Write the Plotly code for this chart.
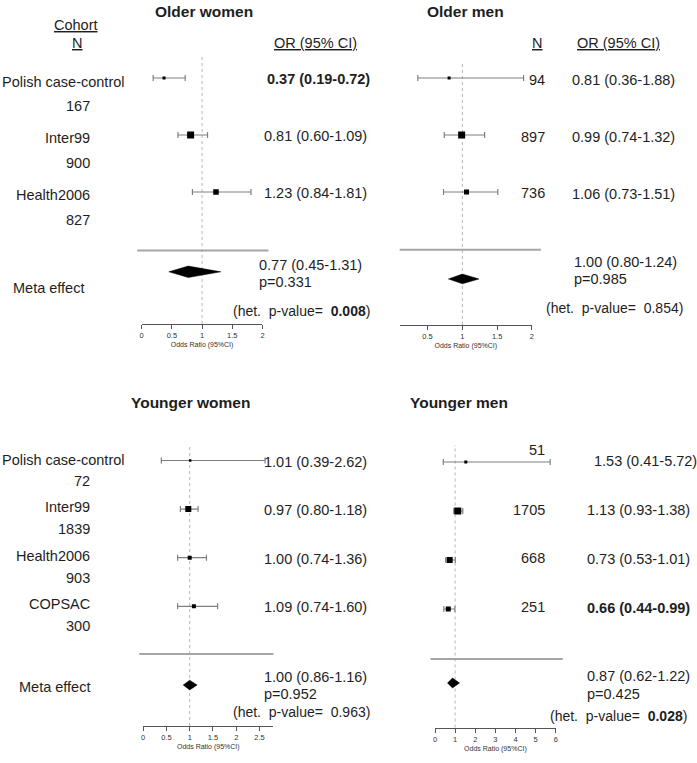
import plotly.graph_objects as go

W, H = 697, 763

# ---------------- data ----------------
cohorts_older = ["Polish case-control", "Inter99", "Health2006"]
cohorts_younger = ["Polish case-control", "Inter99", "Health2006", "COPSAC"]

# Older women
ow_n = [167, 900, 827]
ow_or = [0.37, 0.81, 1.23]
ow_lo = [0.19, 0.60, 0.84]
ow_hi = [0.72, 1.09, 1.81]
ow_sig = [True, False, False]
ow_meta = [0.77, 0.45, 1.31]
ow_p = "0.331"
ow_het = "0.008"
ow_het_sig = True

# Older men
om_n = [94, 897, 736]
om_or = [0.81, 0.99, 1.06]
om_lo = [0.36, 0.74, 0.73]
om_hi = [1.88, 1.32, 1.51]
om_sig = [False, False, False]
om_meta = [1.00, 0.80, 1.24]
om_p = "0.985"
om_het = "0.854"
om_het_sig = False

# Younger women
yw_n = [72, 1839, 903, 300]
yw_or = [1.01, 0.97, 1.00, 1.09]
yw_lo = [0.39, 0.80, 0.74, 0.74]
yw_hi = [2.62, 1.18, 1.36, 1.60]
yw_sig = [False, False, False, False]
yw_meta = [1.00, 0.86, 1.16]
yw_p = "0.952"
yw_het = "0.963"
yw_het_sig = False

# Younger men
ym_n = [51, 1705, 668, 251]
ym_or = [1.53, 1.13, 0.73, 0.66]
ym_lo = [0.41, 0.93, 0.53, 0.44]
ym_hi = [5.72, 1.38, 1.01, 0.99]
ym_sig = [False, False, False, True]
ym_meta = [0.87, 0.62, 1.22]
ym_p = "0.425"
ym_het = "0.028"
ym_het_sig = True

# axis ticks
ticks_ow = [0, 0.5, 1, 1.5, 2]
ticks_om = [0.5, 1, 1.5, 2]
ticks_yw = [0, 0.5, 1, 1.5, 2, 2.5]
ticks_ym = [0, 1, 2, 3, 4, 5, 6]

# ---------------- layout / style (pixels) ----------------
FONT = "Liberation Sans, Arial, sans-serif"
TXT = "#1e1e1e"
FS = 14.5


def fx(x):
    return x / W


def fy(y):
    return 1 - y / H


panels = [
    dict(name="Older women", cohorts=cohorts_older, n=ow_n, est=ow_or, lo=ow_lo, hi=ow_hi,
         sig=ow_sig, meta=ow_meta, p=ow_p, het=ow_het, het_sig=ow_het_sig, ticks=ticks_ow,
         xdom=(140.5, 262), xrange=(0, 2), ydom=(57, 324), row0=78, unit=28.5,
         rmeta=6.8, rsep=6.05, sep=(136, 268), sizes=[3, 7, 5.5], dh=0.2,
         title=(203, 11), left=True, lab_x=91, lab_off=3, n_off=28, meta_lab=(84, 288),
         or_x=262, or_anchor="left", or_off=1, or_shift=[3, 0, 0],
         mtxt=(256.5, 265, 282, 230, 311)),
    dict(name="Older men", cohorts=cohorts_older, n=om_n, est=om_or, lo=om_lo, hi=om_hi,
         sig=om_sig, meta=om_meta, p=om_p, het=om_het, het_sig=om_het_sig, ticks=ticks_om,
         xdom=(400, 533), xrange=(0.1, 2), ydom=(63, 325), row0=78, unit=28.5,
         rmeta=7.05, rsep=6.03, sep=(400, 542), sizes=[3, 7, 5], dh=0.17,
         title=(466, 11), left=False, nr_x=548, n_off=[2, 2, 1], meta_lab=None,
         or_x=625, or_anchor="center", or_off=2,
         mtxt=(573, 262, 279, 545.5, 308)),
    dict(name="Younger women", cohorts=cohorts_younger, n=yw_n, est=yw_or, lo=yw_lo, hi=yw_hi,
         sig=yw_sig, meta=yw_meta, p=yw_p, het=yw_het, het_sig=yw_het_sig, ticks=ticks_yw,
         xdom=(142, 273), xrange=(0, 2.8), ydom=(447, 726), row0=460.5, unit=24.3,
         rmeta=9.24, rsep=7.96, sep=(138, 273), sizes=[2.5, 6, 4, 4], dh=0.2,
         title=(190, 403), left=True, lab_x=91, lab_off=-2, n_off=20, meta_lab=(91, 687),
         or_x=261.5, or_anchor="left", or_off=1,
         mtxt=(261.5, 677, 694, 230, 712)),
    dict(name="Younger men", cohorts=cohorts_younger, n=ym_n, est=ym_or, lo=ym_lo, hi=ym_hi,
         sig=ym_sig, meta=ym_meta, p=ym_p, het=ym_het, het_sig=ym_het_sig, ticks=ticks_ym,
         xdom=(435.5, 557), xrange=(0, 6), ydom=(445, 727.5), row0=462, unit=24.5,
         rmeta=9.02, rsep=8.04, sep=(431, 564), sizes=[3, 7, 6, 5], dh=0.2,
         title=(460, 403), left=False, nr_x=548, n_off=[-12, -1, -2, -2], meta_lab=None,
         or_x=586, or_anchor="left", or_off=-1, or_shift=[7, 0, 0, 0],
         mtxt=(586, 676, 694, 549.5, 716)),
]

fig = go.Figure()
annotations = []
shapes = []
layout_axes = {}


def ann(text, x, y, xanchor="center", size=FS, bold=False):
    if bold:
        text = "<b>" + text + "</b>"
    annotations.append(dict(text=text, x=fx(x), y=fy(y), xref="paper", yref="paper",
                            xanchor=xanchor, yanchor="middle", showarrow=False,
                            font=dict(family=FONT, size=size, color=TXT)))


for i, p in enumerate(panels):
    k = "" if i == 0 else str(i + 1)
    xa, ya = "x" + k, "y" + k
    row_px = lambda r, p=p: p["row0"] + p["unit"] * r
    y_bot, y_top = p["ydom"][1], p["ydom"][0]
    layout_axes["xaxis" + k] = dict(
        domain=[fx(p["xdom"][0]), fx(p["xdom"][1])], range=list(p["xrange"]), anchor=ya,
        tickvals=p["ticks"], showline=True, linecolor="#555", linewidth=1,
        ticks="outside", ticklen=4, tickcolor="#555", showgrid=False, zeroline=False,
        tickfont=dict(family=FONT, size=7.5, color="#333"),
        title=dict(text="Odds Ratio (95%CI)", font=dict(family=FONT, size=7, color="#333"),
                   standoff=3),
        fixedrange=True)
    layout_axes["yaxis" + k] = dict(
        domain=[fy(y_bot), fy(y_top)],
        range=[(y_bot - p["row0"]) / p["unit"], (y_top - p["row0"]) / p["unit"]],
        anchor=xa, visible=False, fixedrange=True)

    rows = [2 * j for j in range(len(p["est"]))]
    for j in range(len(p["est"])):
        fig.add_trace(go.Scatter(
            x=[p["est"][j]], y=[rows[j]], xaxis=xa, yaxis=ya, mode="markers",
            marker=dict(symbol="square", size=p["sizes"][j], color="black", line=dict(width=0)),
            error_x=dict(type="data", symmetric=False,
                         array=[p["hi"][j] - p["est"][j]],
                         arrayminus=[p["est"][j] - p["lo"][j]],
                         color="#7f7f7f", thickness=1.2, width=3),
            showlegend=False, hoverinfo="skip"))
    # meta diamond
    m, mlo, mhi = p["meta"]
    r, h = p["rmeta"], p["dh"]
    fig.add_trace(go.Scatter(
        x=[mlo, m, mhi, m, mlo], y=[r, r - h, r, r + h, r], xaxis=xa, yaxis=ya,
        mode="lines", fill="toself", fillcolor="black", line=dict(color="black", width=0.5),
        showlegend=False, hoverinfo="skip"))

    # reference line at OR = 1
    shapes.append(dict(type="line", xref=xa, yref=ya + " domain", x0=1, x1=1, y0=0, y1=1,
                       line=dict(color="#b5b5b5", width=1, dash="dot"), layer="below"))
    # separator
    shapes.append(dict(type="line", xref="paper", yref=ya, x0=fx(p["sep"][0]), x1=fx(p["sep"][1]),
                       y0=p["rsep"], y1=p["rsep"], line=dict(color="#a6a6a6", width=2)))

    # title
    ann(p["name"], p["title"][0], p["title"][1], size=15.5, bold=True)

    # row texts
    for j, c in enumerate(p["cohorts"]):
        ry = row_px(rows[j])
        if p["left"]:
            if j == 0:
                ann(c, -2, ry + p["lab_off"] + 1, xanchor="left")
            else:
                ann(c, p["lab_x"], ry + p["lab_off"], xanchor="right")
            ann(str(p["n"][j]), p["lab_x"], ry + p["n_off"], xanchor="right")
        else:
            ann(str(p["n"][j]), p["nr_x"], ry + p["n_off"][j], xanchor="right")
        ortxt = "%.2f (%.2f-%.2f)" % (p["est"][j], p["lo"][j], p["hi"][j])
        shift = p.get("or_shift", [0] * 4)[j]
        ann(ortxt, p["or_x"] + shift, ry + p["or_off"], xanchor=p["or_anchor"], bold=p["sig"][j])

    # meta texts
    mx, my1, my2, hx, hy = p["mtxt"]
    ann("%.2f (%.2f-%.2f)" % (m, mlo, mhi), mx, my1, xanchor="left")
    ann("p=" + p["p"], mx, my2, xanchor="left")
    hv = "<b>" + p["het"] + "</b>" if p["het_sig"] else p["het"]
    ann("(het.\u00a0 p-value=\u00a0 " + hv + ")", hx, hy, xanchor="left", size=14)
    if p["meta_lab"]:
        ann("Meta effect", p["meta_lab"][0], p["meta_lab"][1], xanchor="right")

# headers
ann("<u>Cohort</u>", 74, 25)
ann("<u>N</u>", 75, 43)
ann("<u>OR (95% CI)</u>", 315, 43)
ann("<u>N</u>", 538, 43)
ann("<u>OR (95% CI)</u>", 620, 43)

fig.update_layout(
    width=W, height=H, margin=dict(l=0, r=0, t=0, b=0, pad=0),
    paper_bgcolor="white", plot_bgcolor="rgba(0,0,0,0)",
    annotations=annotations, shapes=shapes, showlegend=False,
    **layout_axes)

fig.write_html("out.html", config={"displayModeBar": False}, post_script=(
    "document.body.style.margin='0';document.body.style.padding='0';"
    "document.body.style.overflow='hidden';"))
